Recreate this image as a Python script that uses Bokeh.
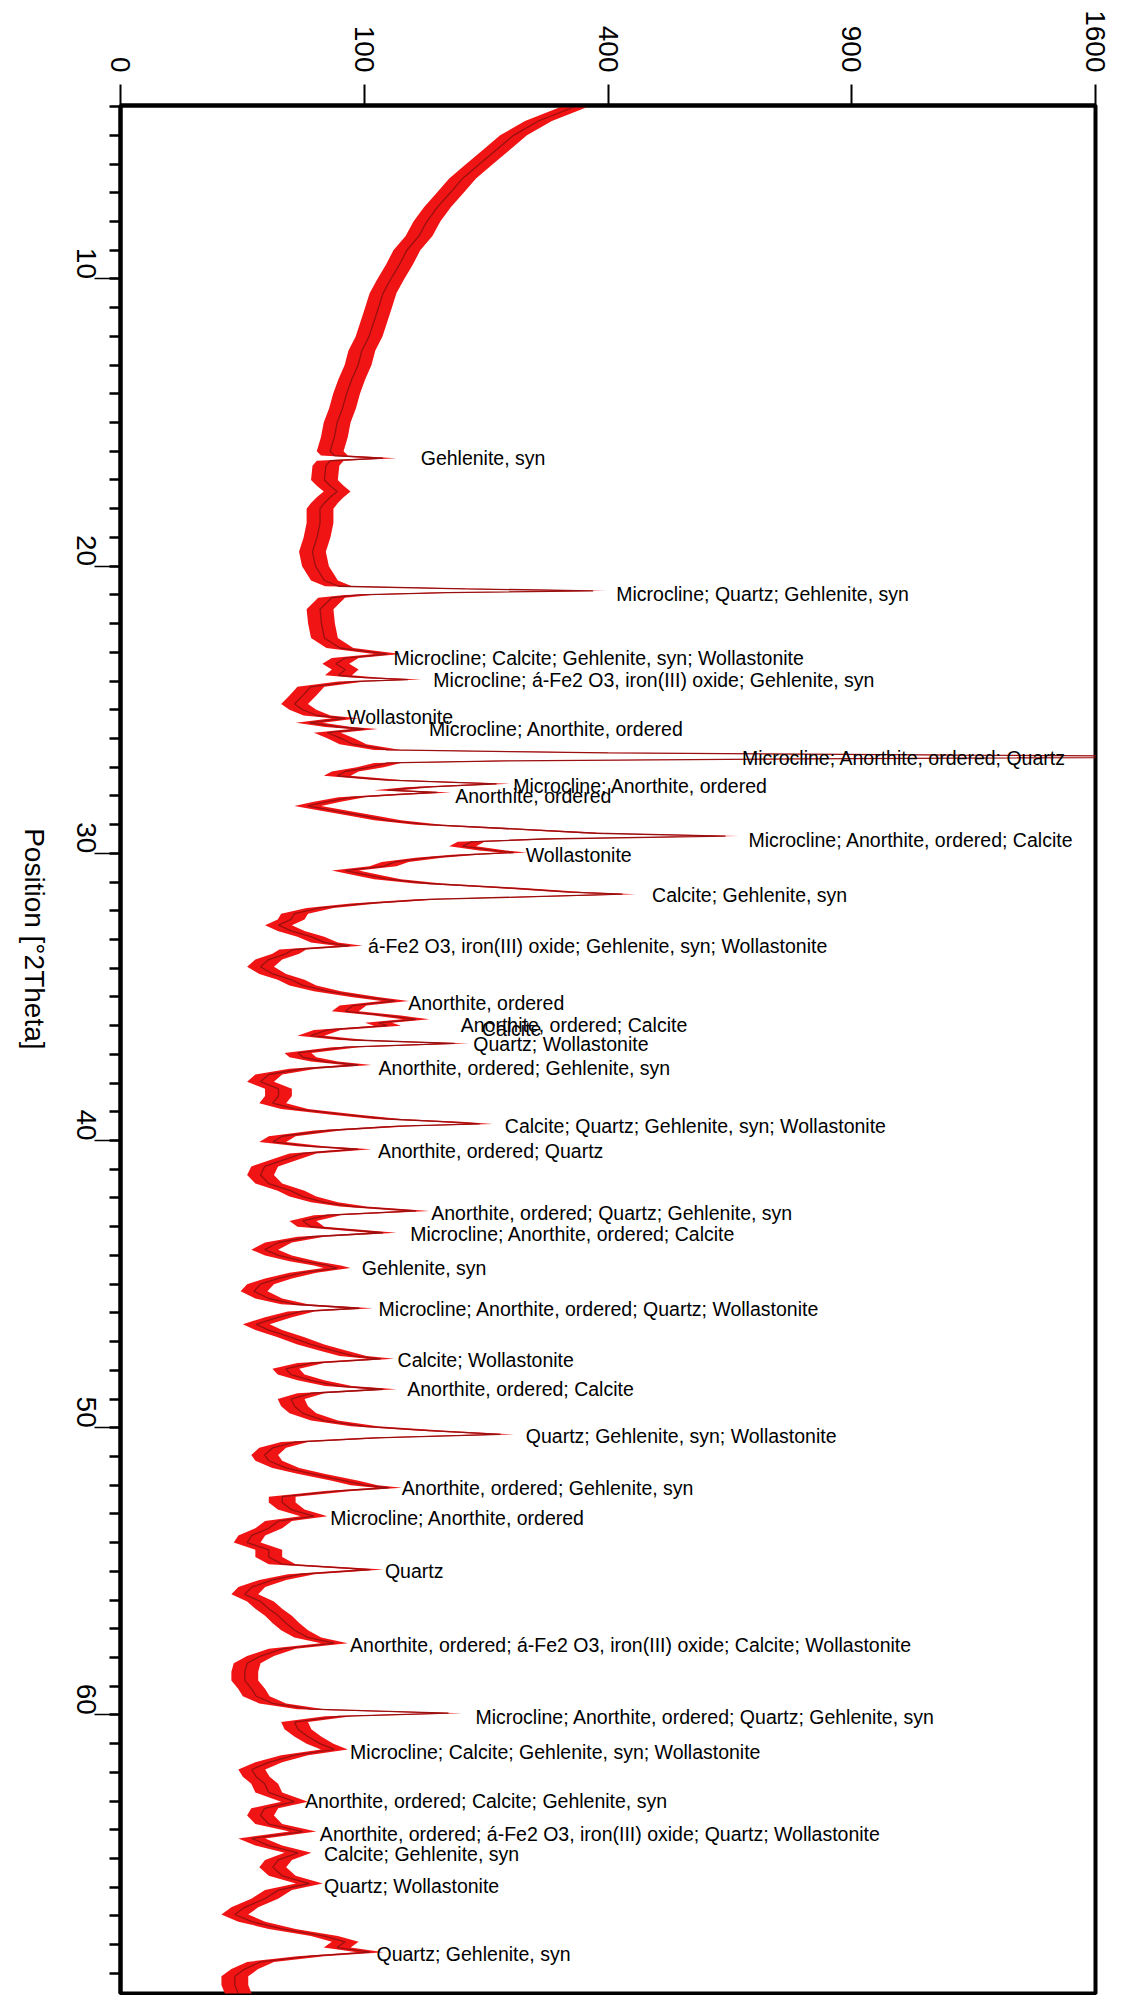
import math
import numpy as np
from bokeh.plotting import figure
from bokeh.models import Range1d, FixedTicker, SingleIntervalTicker
from bokeh.embed import file_html
from bokeh.resources import INLINE
from bokeh.core.properties import value

# ---- measured pattern: position [°2Theta] and counts ----
two_theta = [
    3.96, 4.5, 5.0, 5.5, 6.0, 6.5, 7.0, 7.5, 8.0, 8.5, 9.0, 9.5, 10.0, 10.5, 11.0, 11.5,
    12.0, 12.5, 13.0, 13.5, 14.0, 14.5, 15.0, 15.5, 16.0, 16.15, 16.24, 16.33, 16.5, 17.0,
    17.2, 17.4, 17.6, 17.8, 18.0, 18.5, 19.0, 19.5, 20.0, 20.5, 20.7, 20.79, 20.86, 20.92,
    21.0, 21.1, 21.5, 22.0, 22.5, 22.85, 23.06, 23.2, 23.4, 23.6, 23.8, 23.88, 23.95, 24.02,
    24.2, 24.5, 24.8, 25.0, 25.2, 25.3, 25.45, 25.6, 25.67, 25.8, 26.0, 26.2, 26.4, 26.5,
    26.58, 26.64, 26.7, 26.78, 26.85, 27.0, 27.15, 27.3, 27.45, 27.58, 27.7, 27.8, 27.88,
    27.95, 28.05, 28.2, 28.35, 28.5, 28.7, 28.85, 29.0, 29.15, 29.3, 29.4, 29.5, 29.6, 29.75,
    29.9, 29.97, 30.05, 30.15, 30.3, 30.45, 30.6, 30.75, 30.9, 31.05, 31.2, 31.35, 31.42,
    31.5, 31.6, 31.75, 31.9, 32.1, 32.3, 32.5, 32.7, 32.9, 33.1, 33.22, 33.35, 33.5, 33.7,
    33.95, 34.2, 34.4, 34.6, 34.8, 35.0, 35.14, 35.3, 35.5, 35.65, 35.78, 35.9, 36.0, 36.15,
    36.35, 36.5, 36.62, 36.75, 36.95, 37.1, 37.25, 37.37, 37.5, 37.7, 37.95, 38.2, 38.45,
    38.7, 38.9, 39.1, 39.25, 39.35, 39.42, 39.5, 39.65, 39.85, 40.05, 40.2, 40.3, 40.45,
    40.65, 40.9, 41.2, 41.5, 41.75, 41.95, 42.15, 42.3, 42.45, 42.6, 42.8, 43.0, 43.21,
    43.35, 43.55, 43.8, 44.0, 44.2, 44.35, 44.44, 44.6, 44.8, 45.0, 45.25, 45.5, 45.7, 45.84,
    45.95, 46.15, 46.4, 46.6, 46.85, 47.1, 47.3, 47.5, 47.6, 47.75, 47.95, 48.15, 48.35,
    48.55, 48.66, 48.8, 49.0, 49.25, 49.5, 49.75, 49.95, 50.1, 50.23, 50.35, 50.5, 50.7,
    50.95, 51.15, 51.4, 51.6, 51.85, 52.0, 52.09, 52.2, 52.4, 52.6, 52.85, 53.08, 53.25,
    53.5, 53.75, 54.0, 54.25, 54.5, 54.75, 54.94, 55.1, 55.3, 55.55, 55.8, 56.05, 56.3,
    56.55, 56.8, 57.05, 57.3, 57.5, 57.7, 57.95, 58.2, 58.5, 58.8, 59.1, 59.35, 59.6, 59.8,
    59.94, 60.05, 60.25, 60.5, 60.75, 61.0, 61.2, 61.4, 61.65, 61.9, 62.15, 62.4, 62.7,
    63.02, 63.25, 63.5, 63.8, 64.06, 64.3, 64.55, 64.8, 65.05, 65.3, 65.6, 65.87, 66.1,
    66.4, 66.7, 66.95, 67.2, 67.45, 67.7, 67.9, 68.1, 68.26, 68.4, 68.6, 68.85, 69.1, 69.4,
    69.85,
]
counts = [
    352, 294, 260, 238, 217, 197, 183, 169, 158, 150, 138, 131, 123, 116, 112, 108,
    104, 98, 95, 90, 86, 83, 79, 77, 74, 77, 116, 74, 71, 70,
    74, 79, 74, 70, 67, 67, 65, 62, 64, 70, 80, 200, 376, 180,
    95, 75, 67, 68, 70, 81, 120, 85, 78, 85, 80, 100, 139, 90,
    61, 56, 51, 56, 65, 85, 60, 80, 100, 72, 82, 91, 120, 400,
    1200, 2200, 900, 250, 120, 105, 85, 79, 120, 238, 150, 120, 169,
    130, 90, 72, 59, 75, 100, 120, 160, 260, 380, 616, 300, 207, 197,
    233, 260, 200, 160, 127, 116, 85, 102, 120, 160, 250, 340, 424,
    300, 160, 100, 67, 51, 49, 42, 49, 61, 70, 88, 50, 46, 37,
    33, 39, 49, 56, 72, 100, 127, 91, 85, 120, 147, 112, 120, 72,
    61, 91, 188, 85, 53, 56, 70, 95, 56, 37, 33, 42, 42,
    39, 51, 85, 120, 180, 217, 130, 72, 44, 39, 61, 95, 56,
    46, 35, 33, 37, 49, 56, 70, 91, 147, 72, 56, 61, 116,
    61, 42, 35, 42, 56, 72, 79, 56, 42, 33, 30, 37, 51, 96,
    55, 42, 31, 37, 49, 61, 75, 91, 114, 61, 46, 49, 61,
    80, 116, 61, 49, 51, 56, 70, 100, 160, 243, 110, 51, 39,
    35, 37, 46, 61, 85, 100, 121, 80, 44, 44, 49, 63, 42,
    37, 29, 27, 37, 37, 44, 105, 55, 39, 29, 26, 33, 37,
    42, 46, 51, 59, 77, 44, 33, 27, 26, 26, 29, 31, 39, 61,
    181, 80, 51, 53, 59, 67, 77, 51, 37, 29, 31, 35, 37,
    51, 35, 33, 37, 56, 29, 37, 53, 42, 39, 44, 60, 42,
    35, 26, 22, 29, 44, 70, 85, 79, 105, 61, 33, 26, 22, 22,
    24,
]

# ---- phase labels: position [°2Theta], counts where the text starts, text ----
label_pos = [
    16.24, 20.96, 23.21, 23.98, 25.26, 25.67, 26.68, 27.64, 27.99, 29.54, 30.05, 31.44,
    33.22, 35.20, 35.98, 36.13, 36.65, 37.46, 39.50, 40.35, 42.51, 43.27, 44.44, 45.88,
    47.63, 48.66, 50.29, 52.09, 53.14, 54.98, 57.56, 60.06, 61.28, 62.99, 64.13, 64.83,
    65.95, 68.34,
]
label_at = [
    151.7, 413.7, 125.4, 164.7, 86.5, 160.3, 650.0, 259.6, 188.6, 663.6, 276.5, 475.6,
    103.2, 139.3, 194.8, 219.7, 209.5, 112.1, 248.6, 111.5, 162.5, 141.3, 98.0, 112.1,
    129.2, 138.4, 276.5, 133.2, 74.1, 117.7, 88.7, 212.0, 88.7, 57.3, 66.9, 69.7,
    69.7, 110.3,
]
label_text = [
    "Gehlenite, syn",
    "Microcline; Quartz; Gehlenite, syn",
    "Microcline; Calcite; Gehlenite, syn; Wollastonite",
    "Microcline; á-Fe2 O3, iron(III) oxide; Gehlenite, syn",
    "Wollastonite",
    "Microcline; Anorthite, ordered",
    "Microcline; Anorthite, ordered; Quartz",
    "Microcline; Anorthite, ordered",
    "Anorthite, ordered",
    "Microcline; Anorthite, ordered; Calcite",
    "Wollastonite",
    "Calcite; Gehlenite, syn",
    "á-Fe2 O3, iron(III) oxide; Gehlenite, syn; Wollastonite",
    "Anorthite, ordered",
    "Anorthite, ordered; Calcite",
    "Calcite",
    "Quartz; Wollastonite",
    "Anorthite, ordered; Gehlenite, syn",
    "Calcite; Quartz; Gehlenite, syn; Wollastonite",
    "Anorthite, ordered; Quartz",
    "Anorthite, ordered; Quartz; Gehlenite, syn",
    "Microcline; Anorthite, ordered; Calcite",
    "Gehlenite, syn",
    "Microcline; Anorthite, ordered; Quartz; Wollastonite",
    "Calcite; Wollastonite",
    "Anorthite, ordered; Calcite",
    "Quartz; Gehlenite, syn; Wollastonite",
    "Anorthite, ordered; Gehlenite, syn",
    "Microcline; Anorthite, ordered",
    "Quartz",
    "Anorthite, ordered; á-Fe2 O3, iron(III) oxide; Calcite; Wollastonite",
    "Microcline; Anorthite, ordered; Quartz; Gehlenite, syn",
    "Microcline; Calcite; Gehlenite, syn; Wollastonite",
    "Anorthite, ordered; Calcite; Gehlenite, syn",
    "Anorthite, ordered; á-Fe2 O3, iron(III) oxide; Quartz; Wollastonite",
    "Calcite; Gehlenite, syn",
    "Quartz; Wollastonite",
    "Quartz; Gehlenite, syn",
]

count_ticks = [0, 100, 400, 900, 1600]
count_tick_labels = ["0", "100", "400", "900", "1600"]
axis_title = "Position [°2Theta]"

FONT = "Liberation Sans"

# square-root intensity scale
sq = np.sqrt(np.array(counts, dtype=float))
tick_sq = [math.sqrt(c) for c in count_ticks]
noise_halfwidth = 0.55  # drawn width of the noisy trace, in sqrt(counts)

p = figure(width=1112, height=1995, output_backend="svg", toolbar_location=None,
           x_range=Range1d(0, tick_sq[-1]), y_range=Range1d(69.70, 3.96),
           x_axis_location="above",
           min_border_left=120, min_border_top=105, min_border_right=17, min_border_bottom=2)
p.grid.visible = False
p.background_fill_color = "white"
p.border_fill_color = "white"
p.outline_line_color = "black"
p.outline_line_width = 4

xa = p.xaxis[0]
xa.ticker = FixedTicker(ticks=tick_sq)
xa.major_label_overrides = {t: s for t, s in zip(tick_sq, count_tick_labels)}
xa.major_label_orientation = -math.pi / 2
xa.major_tick_out = 21
xa.major_tick_in = 0
xa.minor_tick_out = 0
xa.minor_tick_in = 0
xa.major_tick_line_width = 2
xa.axis_line_width = 4
xa.major_label_standoff = 12
xa.major_label_text_font = FONT
xa.major_label_text_font_size = "28px"
xa.major_label_text_color = "black"

ya = p.yaxis[0]
ya.ticker = SingleIntervalTicker(interval=10, num_minor_ticks=10)
ya.major_label_orientation = -math.pi / 2
ya.major_tick_out = 26
ya.major_tick_in = 0
ya.minor_tick_out = 11
ya.minor_tick_in = 0
ya.major_tick_line_width = 1.5
ya.minor_tick_line_width = 2.5
ya.axis_line_width = 4
ya.major_label_standoff = 8
ya.major_label_text_font = FONT
ya.major_label_text_font_size = "28px"
ya.major_label_text_color = "black"
ya.axis_label = axis_title
ya.axis_label_text_font = FONT
ya.axis_label_text_font_size = "28px"
ya.axis_label_text_font_style = "normal"
ya.axis_label_text_color = "black"
ya.axis_label_standoff = 30
try:
    ya.axis_label_orientation = -math.pi / 2
except Exception:
    pass

# noisy trace: red band plus dark centre line
p.harea(x1=sq - noise_halfwidth, x2=sq + noise_halfwidth, y=two_theta,
        fill_color="#f01414", fill_alpha=1.0)
p.line(x=sq, y=two_theta, line_color="#9a1010", line_width=1.3)

p.text(x=np.sqrt(np.array(label_at)), y=label_pos, text=label_text,
       text_font=value(FONT), text_font_size="19.5px", text_color="black",
       text_baseline="middle", text_align="left")

open("out.html", "w").write(file_html(p, INLINE))
